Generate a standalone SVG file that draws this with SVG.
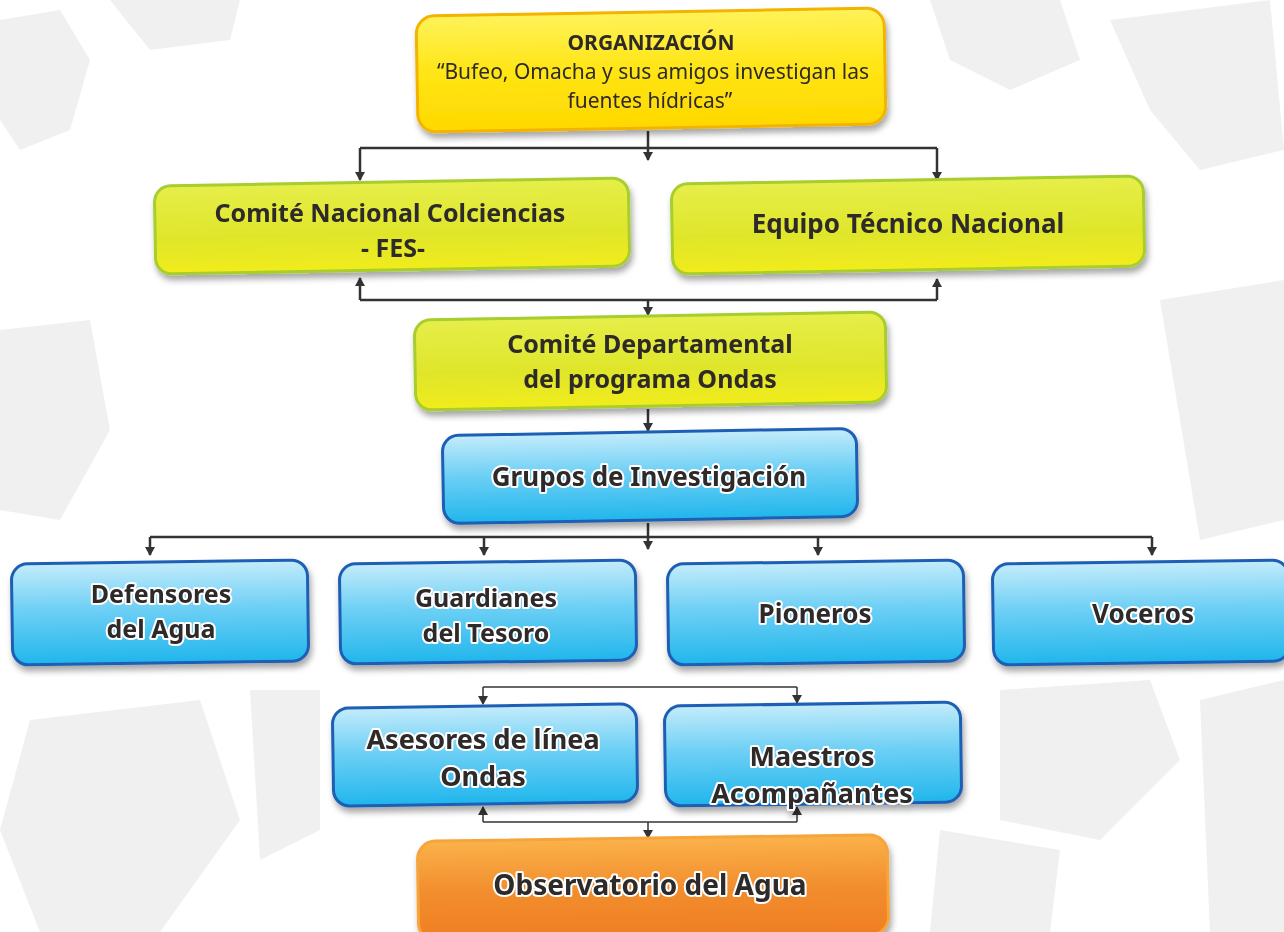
<svg xmlns="http://www.w3.org/2000/svg" width="1284" height="932" viewBox="0 0 1284 932">
<defs>
<linearGradient id="gY" x1="0" y1="0" x2="0" y2="1"><stop offset="0" stop-color="#fff25a"/><stop offset="0.5" stop-color="#ffe514"/><stop offset="1" stop-color="#ffd800"/></linearGradient>
<linearGradient id="gG" x1="0" y1="0" x2="0" y2="1"><stop offset="0" stop-color="#e6ee4a"/><stop offset="0.6" stop-color="#dfe62a"/><stop offset="1" stop-color="#f2ec1c"/></linearGradient>
<linearGradient id="gB" x1="0" y1="0" x2="0" y2="1"><stop offset="0" stop-color="#c4ecfb"/><stop offset="0.45" stop-color="#6fd0f5"/><stop offset="1" stop-color="#20b6ec"/></linearGradient>
<linearGradient id="gO" x1="0" y1="0" x2="0" y2="1"><stop offset="0" stop-color="#fbb24a"/><stop offset="0.5" stop-color="#f28e2e"/><stop offset="1" stop-color="#f07e22"/></linearGradient>
<filter id="sh" x="-10%" y="-10%" width="120%" height="130%"><feDropShadow dx="2" dy="5" stdDeviation="3" flood-color="#000" flood-opacity="0.35"/></filter>
<marker id="ar" markerWidth="10" markerHeight="10" refX="8" refY="5" orient="auto" markerUnits="userSpaceOnUse"><path d="M0,0 L9,5 L0,10 Z" fill="#333"/></marker>
</defs>
<style>
.bg{fill:#f0f0f0}
.ny{fill:url(#gY);stroke:#f2b400;stroke-width:3}
.ng{fill:url(#gG);stroke:#a8cd2e;stroke-width:3}
.nb{fill:url(#gB);stroke:#1f5fb4;stroke-width:3}
.no{fill:url(#gO);stroke:#f5a53a;stroke-width:3}
.t{font-family:"Noto Sans","Open Sans",sans-serif;fill:#2d2a2b;text-anchor:middle}
.b{font-weight:bold}
.w{stroke:#fff;stroke-width:4;paint-order:stroke;stroke-linejoin:round}
.c{fill:none;stroke:#333;stroke-width:2.5}
.ct{fill:none;stroke:#333;stroke-width:1.5}
</style>
<rect width="1284" height="932" fill="#fff"/>
<g id="background">
<path class="bg" d="M0,20 L60,10 L90,60 L70,130 L20,150 L0,120 Z"/>
<path class="bg" d="M110,0 L240,0 L230,40 L150,50 Z"/>
<path class="bg" d="M930,0 L1060,0 L1080,60 L1010,90 L950,60 Z"/>
<path class="bg" d="M1110,20 L1270,0 L1284,150 L1200,170 L1150,110 Z"/>
<path class="bg" d="M1160,300 L1284,280 L1284,520 L1200,540 L1180,420 Z"/>
<path class="bg" d="M0,330 L90,320 L110,430 L60,520 L0,510 Z"/>
<path class="bg" d="M1000,690 L1150,680 L1180,760 L1100,840 L1000,820 Z"/>
<path class="bg" d="M1200,700 L1284,680 L1284,932 L1210,932 Z"/>
<path class="bg" d="M30,720 L200,700 L240,820 L160,932 L40,932 L0,830 Z"/>
<path class="bg" d="M250,690 L320,690 L320,830 L260,860 Z"/>
<path class="bg" d="M940,830 L1060,850 L1050,932 L930,932 Z"/>
</g>
<g id="connectors">
<path class="c" d="M648,131 V160" marker-end="url(#ar)"/>
<path class="c" d="M360,148 H937"/>
<path class="c" d="M360,148 V180" marker-end="url(#ar)"/>
<path class="c" d="M937,148 V180" marker-end="url(#ar)"/>
<path class="c" d="M360,300 H937"/>
<path class="c" d="M360,300 V278" marker-end="url(#ar)"/>
<path class="c" d="M937,300 V279" marker-end="url(#ar)"/>
<path class="c" d="M648,300 V315" marker-end="url(#ar)"/>
<path class="c" d="M648,409 V431" marker-end="url(#ar)"/>
<path class="c" d="M648,523 V549" marker-end="url(#ar)"/>
<path class="c" d="M150,537 H1152"/>
<path class="c" d="M150,537 V555" marker-end="url(#ar)"/>
<path class="c" d="M484,537 V555" marker-end="url(#ar)"/>
<path class="c" d="M818,537 V555" marker-end="url(#ar)"/>
<path class="c" d="M1152,537 V555" marker-end="url(#ar)"/>
<path class="ct" d="M483,687 H797"/>
<path class="ct" d="M483,687 V704" marker-end="url(#ar)"/>
<path class="ct" d="M797,687 V703" marker-end="url(#ar)"/>
<path class="ct" d="M483,822 H797"/>
<path class="ct" d="M483,822 V807" marker-end="url(#ar)"/>
<path class="ct" d="M797,822 V807" marker-end="url(#ar)"/>
<path class="ct" d="M648,822 V838" marker-end="url(#ar)"/>
</g>
<g id="n-organizacion" filter="url(#sh)">
<rect class="ny" x="417" y="12" width="468" height="116" rx="18" transform="rotate(-1 651 70)"/>
<text class="t b" x="651" y="50" font-size="21">ORGANIZACIÓN</text>
<text class="t" x="653" y="79" font-size="21">“Bufeo, Omacha y sus amigos investigan las</text>
<text class="t" x="650" y="108" font-size="21">fuentes hídricas”</text>
</g>
<g id="n-colciencias" filter="url(#sh)">
<rect class="ng" x="155" y="182" width="474" height="88" rx="16" transform="rotate(-1 392 226)"/>
<text class="t b" x="390" y="222" font-size="25">Comité Nacional Colciencias</text>
<text class="t b" x="393" y="257" font-size="25">- FES-</text>
</g>
<g id="n-equipo" filter="url(#sh)">
<rect class="ng" x="672" y="180" width="472" height="90" rx="16" transform="rotate(-1 908 225)"/>
<text class="t b" x="908" y="233" font-size="26">Equipo Técnico Nacional</text>
</g>
<g id="n-departamental" filter="url(#sh)">
<rect class="ng" x="415" y="316" width="471" height="90" rx="16" transform="rotate(-1 650 361)"/>
<text class="t b" x="650" y="353" font-size="25">Comité Departamental</text>
<text class="t b" x="650" y="388" font-size="25">del programa  Ondas</text>
</g>
<g id="n-grupos" filter="url(#sh)">
<rect class="nb" x="443" y="432" width="414" height="88" rx="16" transform="rotate(-1 650 476)"/>
<text class="t b w" x="649" y="486" font-size="26">Grupos de Investigación</text>
</g>
<g id="n-defensores" filter="url(#sh)">
<rect class="nb" x="12" y="562" width="296" height="101" rx="16" transform="rotate(-0.8 160 612)"/>
<text class="t b w" x="161" y="603" font-size="25">Defensores</text>
<text class="t b w" x="161" y="638" font-size="25">del Agua</text>
</g>
<g id="n-guardianes" filter="url(#sh)">
<rect class="nb" x="340" y="562" width="296" height="100" rx="16" transform="rotate(-0.8 488 612)"/>
<text class="t b w" x="486" y="607" font-size="25">Guardianes</text>
<text class="t b w" x="486" y="642" font-size="25">del Tesoro</text>
</g>
<g id="n-pioneros" filter="url(#sh)">
<rect class="nb" x="668" y="562" width="296" height="101" rx="16" transform="rotate(-0.8 816 612)"/>
<text class="t b w" x="815" y="623" font-size="26">Pioneros</text>
</g>
<g id="n-voceros" filter="url(#sh)">
<rect class="nb" x="993" y="562" width="296" height="101" rx="16" transform="rotate(-0.8 1141 612)"/>
<text class="t b w" x="1143" y="623" font-size="26">Voceros</text>
</g>
<g id="n-asesores" filter="url(#sh)">
<rect class="nb" x="333" y="706" width="304" height="98" rx="16" transform="rotate(-0.8 485 755)"/>
<text class="t b w" x="483" y="749" font-size="27">Asesores de línea</text>
<text class="t b w" x="483" y="786" font-size="27">Ondas</text>
</g>
<g id="n-maestros" filter="url(#sh)">
<rect class="nb" x="665" y="704" width="296" height="100" rx="16" transform="rotate(-0.8 813 754)"/>
<text class="t b w" x="812" y="766" font-size="27">Maestros</text>
<text class="t b w" x="812" y="803" font-size="27">Acompañantes</text>
</g>
<g id="n-observatorio" filter="url(#sh)">
<rect class="no" x="418" y="838" width="470" height="100" rx="18" transform="rotate(-0.8 653 888)"/>
<text class="t b w" x="650" y="895" font-size="28">Observatorio del Agua</text>
</g>
</svg>
